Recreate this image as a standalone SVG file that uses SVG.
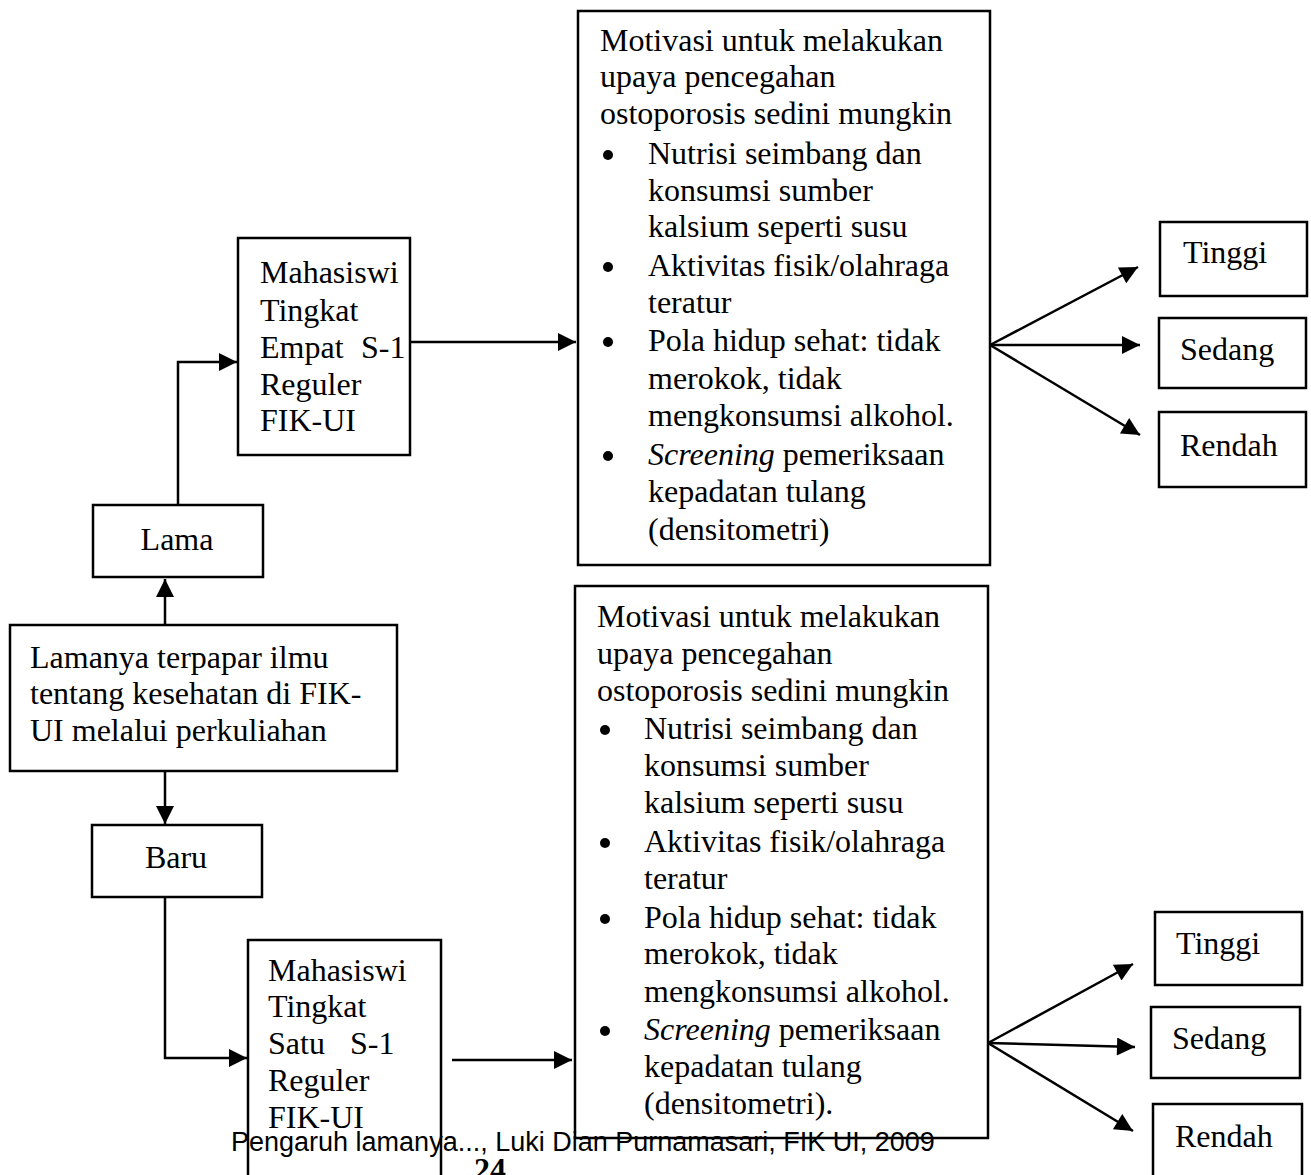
<svg xmlns="http://www.w3.org/2000/svg" width="1311" height="1175" viewBox="0 0 1311 1175">
<defs>
<marker id="ah" viewBox="0 0 10 10" refX="10" refY="5" markerWidth="20" markerHeight="18" markerUnits="userSpaceOnUse" orient="auto">
<path d="M0,0 L10,5 L0,10 z" fill="#000"/>
</marker>
<style>
.box{fill:#fff;stroke:#000;stroke-width:2.5}
.t{font-family:"Liberation Serif","Times New Roman",serif;font-size:32px;fill:#000}
.c{stroke:#000;stroke-width:2.5;fill:none;marker-end:url(#ah)}
.ft{font-family:"Liberation Sans",Arial,sans-serif;font-size:27px;fill:#000}
</style>
</defs>
<rect width="1311" height="1175" fill="#fff"/>

<g id="connectors">
<path class="c" d="M178,505 L178,362 L237,362"/>
<path class="c" d="M410,342 L576,342"/>
<path class="c" d="M165,625 L165,579"/>
<path class="c" d="M165,771 L165,824"/>
<path class="c" d="M165,897 L165,1058 L247,1058"/>
<path class="c" d="M452,1060 L572,1060"/>
<path class="c" d="M990,345 L1138,267"/>
<path class="c" d="M990,345 L1140,345"/>
<path class="c" d="M990,345 L1140,435"/>
<path class="c" d="M988,1043 L1133,964"/>
<path class="c" d="M988,1043 L1135,1047"/>
<path class="c" d="M988,1043 L1133,1131"/>
</g>

<g id="motivasi1">
<rect class="box" x="578" y="11" width="412" height="554"/>
<text class="t" x="600" y="51">Motivasi untuk melakukan</text>
<text class="t" x="600" y="87">upaya pencegahan</text>
<text class="t" x="600" y="124">ostoporosis sedini mungkin</text>
<circle cx="608" cy="155" r="5"/>
<text class="t" x="648" y="164">Nutrisi seimbang dan</text>
<text class="t" x="648" y="201">konsumsi sumber</text>
<text class="t" x="648" y="237">kalsium seperti susu</text>
<circle cx="608" cy="267" r="5"/>
<text class="t" x="648" y="276">Aktivitas fisik/olahraga</text>
<text class="t" x="648" y="313">teratur</text>
<circle cx="608" cy="342" r="5"/>
<text class="t" x="648" y="351">Pola hidup sehat: tidak</text>
<text class="t" x="648" y="389">merokok, tidak</text>
<text class="t" x="648" y="426">mengkonsumsi alkohol.</text>
<circle cx="608" cy="456" r="5"/>
<text class="t" x="648" y="465"><tspan font-style="italic">Screening</tspan> pemeriksaan</text>
<text class="t" x="648" y="502">kepadatan tulang</text>
<text class="t" x="648" y="540">(densitometri)</text>
</g>

<g id="tinggi1"><rect class="box" x="1160" y="222" width="147" height="74"/><text class="t" x="1183" y="263">Tinggi</text></g>
<g id="sedang1"><rect class="box" x="1159" y="318" width="147" height="70"/><text class="t" x="1180" y="360">Sedang</text></g>
<g id="rendah1"><rect class="box" x="1159" y="412" width="147" height="75"/><text class="t" x="1180" y="456">Rendah</text></g>

<g id="empat">
<rect class="box" x="238" y="238" width="172" height="217"/>
<text class="t" x="260" y="283">Mahasiswi</text>
<text class="t" x="260" y="321">Tingkat</text>
<text class="t" x="260" y="358">Empat<tspan x="361">S-1</tspan></text>
<text class="t" x="260" y="395">Reguler</text>
<text class="t" x="260" y="431">FIK-UI</text>
</g>

<g id="lama"><rect class="box" x="93" y="505" width="170" height="72"/><text class="t" x="177" y="550" text-anchor="middle">Lama</text></g>

<g id="lamanya">
<rect class="box" x="10" y="625" width="387" height="146"/>
<text class="t" x="30" y="668">Lamanya terpapar ilmu</text>
<text class="t" x="30" y="704">tentang kesehatan di FIK-</text>
<text class="t" x="30" y="741">UI melalui perkuliahan</text>
</g>

<g id="baru"><rect class="box" x="92" y="825" width="170" height="72"/><text class="t" x="176" y="868" text-anchor="middle">Baru</text></g>

<g id="satu">
<path class="box" d="M248,1180 L248,940 L441,940 L441,1180"/>
<text class="t" x="268" y="981">Mahasiswi</text>
<text class="t" x="268" y="1017">Tingkat</text>
<text class="t" x="268" y="1054">Satu<tspan x="350">S-1</tspan></text>
<text class="t" x="268" y="1091">Reguler</text>
<text class="t" x="268" y="1128">FIK-UI</text>
</g>

<g id="motivasi2">
<rect class="box" x="575" y="586" width="413" height="552"/>
<text class="t" x="597" y="627">Motivasi untuk melakukan</text>
<text class="t" x="597" y="664">upaya pencegahan</text>
<text class="t" x="597" y="701">ostoporosis sedini mungkin</text>
<circle cx="605" cy="730" r="5"/>
<text class="t" x="644" y="739">Nutrisi seimbang dan</text>
<text class="t" x="644" y="776">konsumsi sumber</text>
<text class="t" x="644" y="813">kalsium seperti susu</text>
<circle cx="605" cy="843" r="5"/>
<text class="t" x="644" y="852">Aktivitas fisik/olahraga</text>
<text class="t" x="644" y="889">teratur</text>
<circle cx="605" cy="919" r="5"/>
<text class="t" x="644" y="928">Pola hidup sehat: tidak</text>
<text class="t" x="644" y="964">merokok, tidak</text>
<text class="t" x="644" y="1002">mengkonsumsi alkohol.</text>
<circle cx="605" cy="1031" r="5"/>
<text class="t" x="644" y="1040"><tspan font-style="italic">Screening</tspan> pemeriksaan</text>
<text class="t" x="644" y="1077">kepadatan tulang</text>
<text class="t" x="644" y="1114">(densitometri).</text>
</g>

<g id="tinggi2"><rect class="box" x="1155" y="912" width="147" height="73"/><text class="t" x="1176" y="954">Tinggi</text></g>
<g id="sedang2"><rect class="box" x="1151" y="1007" width="149" height="71"/><text class="t" x="1172" y="1049">Sedang</text></g>
<g id="rendah2"><path class="box" d="M1153,1180 L1153,1104 L1302,1104 L1302,1180"/><text class="t" x="1175" y="1147">Rendah</text></g>

<text class="ft" x="231" y="1151">Pengaruh lamanya..., Luki Dian Purnamasari, FIK UI, 2009</text>
<text class="t" x="490" y="1180" text-anchor="middle" font-weight="bold" font-size="26">24</text>
</svg>
